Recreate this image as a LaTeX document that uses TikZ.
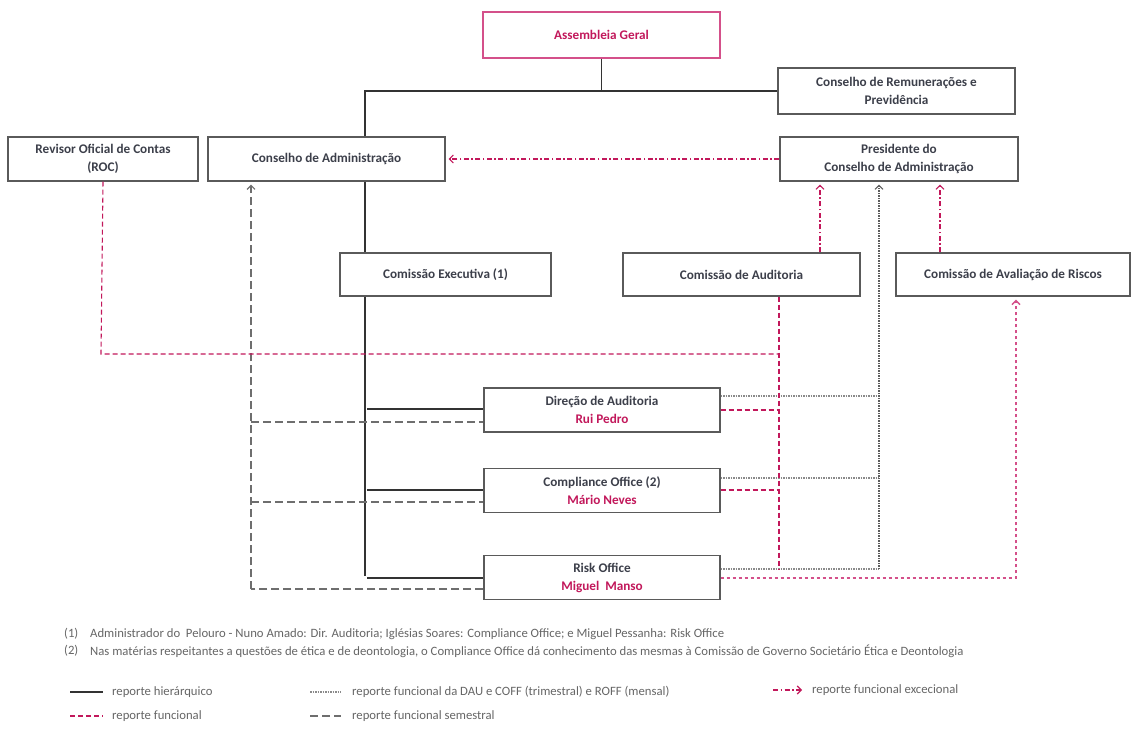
\documentclass[tikz,border=0pt]{standalone}
\usepackage{fontspec}
\setmainfont{Carlito}
\usetikzlibrary{arrows.meta}
\definecolor{pinkred}{HTML}{C2185B}
\definecolor{pinklite}{HTML}{D4508A}
\definecolor{boxtext}{HTML}{3C3F4A}
\definecolor{notetext}{HTML}{666666}
\definecolor{frame}{HTML}{5A5A5A}
\definecolor{hier}{HTML}{333333}
\definecolor{semgray}{HTML}{6E6E6E}
\definecolor{dotgray}{HTML}{8A8A8A}
\newcommand{\person}[1]{{\color{pinkred}#1}}
\tikzset{
  orgbox/.style={draw=frame, line width=1.1pt, fill=white, inner sep=2pt,
    align=center, text=boxtext, font=\fontsize{13.2}{18}\selectfont\bfseries},
  hierline/.style={draw=hier, line width=1.3pt},
  funcline/.style={draw=pinkred, line width=1.1pt, dash pattern=on 5pt off 3pt},
  excline/.style={draw=pinkred, line width=1.1pt,
    dash pattern=on 5pt off 2.5pt on 1.5pt off 2.5pt},
  semline/.style={draw=semgray, line width=1.2pt, dash pattern=on 8pt off 4pt},
  dotline/.style={draw=dotgray, line width=1.1pt, dash pattern=on 1.5pt off 1pt},
  roffline/.style={draw=pinklite, line width=1.5pt, dash pattern=on 3.5pt off 2.5pt},
  arrowup/.style={-{Straight Barb[length=4pt,width=8pt]}, shorten >=3pt},
  notefont/.style={font=\fontsize{12.7}{14}\selectfont, text=notetext, anchor=west, inner sep=0pt},
}
\begin{document}
\begin{tikzpicture}[x=1pt, y=-1pt]
  % canvas
  \path[use as bounding box, fill=white] (0,0) rectangle (1132,728);

  % boxes
  \node[orgbox, draw=pinklite, text=pinkred, minimum width=237, minimum height=46] (ag) at (601.5,35) {Assembleia Geral};
  \node[orgbox, minimum width=237, minimum height=46] (crp) at (896.5,91) {Conselho de Remunerações e\\Previdência};
  \node[orgbox, minimum width=190, minimum height=44] (roc) at (103,159) {Revisor Oficial de Contas\\(ROC)};
  \node[orgbox, minimum width=237, minimum height=44] (ca) at (326.5,159) {Conselho de Administração};
  \node[orgbox, minimum width=238, minimum height=44] (pca) at (899,159) {Presidente do\\Conselho de Administração};
  \node[orgbox, minimum width=211, minimum height=43] (ce) at (445.5,274.5) {Comissão Executiva (1)};
  \node[orgbox, minimum width=237, minimum height=43] (cau) at (741.5,274.5) {Comissão de Auditoria};
  \node[orgbox, minimum width=234, minimum height=43] (car) at (1013,274.5) {Comissão de Avaliação de Riscos};
  \node[orgbox, minimum width=236, minimum height=44] (dau) at (602,410) {Direção de Auditoria\\\person{Rui Pedro}};
  \node[orgbox, minimum width=236, minimum height=44] (coff) at (602,490.5) {Compliance Office (2)\\\person{Mário Neves}};
  \node[orgbox, minimum width=236, minimum height=44] (roff) at (602,577.5) {Risk Office\\\person{Miguel\ \ Manso}};

  % junction points
  \coordinate (spine) at (365,91);
  \coordinate (spineend) at (365,576);
  \coordinate (semx) at (251,589);
  \coordinate (dotx) at (879,569);
  \coordinate (funx) at (779,569);
  \coordinate (rocturn) at (101,354);
  \coordinate (riskturn) at (1016,578);

  % hierarchical reporting
  \draw[hierline] (ag.south) -- (ag.south |- crp.west);
  \draw[hierline] (crp.west) -- (spine) -- (spine |- ca.north);
  \draw[hierline] (spine |- ca.south) -- (spine |- ce.north);
  \draw[hierline] (spine |- ce.south) -- (spineend);
  \draw[hierline] (367,409) -- (367,409 -| dau.west);
  \draw[hierline] (367,490) -- (367,490 -| coff.west);
  \draw[hierline] (367,578) -- (367,578 -| roff.west);

  % half-yearly functional reporting
  \draw[semline] (semx -| roff.west) -- (semx);
  \draw[semline, arrowup] (semx) -- (semx |- ca.south);
  \draw[semline] (semx |- 0,422) -- (dau.west |- 0,422);
  \draw[semline] (semx |- 0,502) -- (coff.west |- 0,502);

  % exceptional functional reporting
  \draw[excline, arrowup] (pca.west) -- (ca.east);
  \draw[excline, arrowup] (cau.north -| 820,0) -- (pca.south -| 820,0);
  \draw[excline, arrowup] (car.north -| 940,0) -- (pca.south -| 940,0);

  % DAU / COFF / ROFF functional reporting
  \draw[dotline] (dau.east |- 0,396) -- (dotx |- 0,396);
  \draw[dotline] (coff.east |- 0,478) -- (dotx |- 0,478);
  \draw[dotline] (roff.east |- dotx) -- (dotx);
  \draw[dotline, arrowup, draw=hier!80] (dotx) -- (dotx |- pca.south);

  % functional reporting
  \draw[funcline] (roc.south) -- (rocturn) -- (rocturn -| funx);
  \draw[funcline] (funx |- cau.south) -- (funx);
  \draw[funcline] (dau.east |- 0,410) -- (778,410);
  \draw[funcline] (coff.east |- 0,490) -- (778,490);
  \draw[roffline, arrowup] (roff.east |- riskturn) -- (riskturn) -- (riskturn |- car.south);

  % notes
  \node[notefont] (n1a) at (64,634) {(1)};
  \node[notefont] (n1b) at (90,634) {Administrador do\ \ Pelouro - Nuno Amado: Dir. Auditoria; Iglésias Soares: Compliance Office; e Miguel Pessanha: Risk Office};
  \node[notefont] (n2a) at (64,651) {(2)};
  \node[notefont] (n2b) at (90,651) {Nas matérias respeitantes a questões de ética e de deontologia, o Compliance Office dá conhecimento das mesmas à Comissão de Governo Societário Ética e Deontologia};

  % legend
  \coordinate (l1a) at (70,692);  \coordinate (l1b) at (103,692);
  \coordinate (l2a) at (70,716);  \coordinate (l2b) at (103,716);
  \coordinate (l3a) at (310,692); \coordinate (l3b) at (341,692);
  \coordinate (l4a) at (310,716); \coordinate (l4b) at (341,716);
  \coordinate (l5a) at (773,690); \coordinate (l5b) at (802,690);
  \draw[hierline] (l1a) -- (l1b);
  \draw[funcline] (l2a) -- (l2b);
  \draw[dotline] (l3a) -- (l3b);
  \draw[semline] (l4a) -- (l4b);
  \draw[excline, -{Straight Barb[length=4pt,width=8pt]}] (l5a) -- (l5b);
  \node[notefont] (t1) at (112,692) {reporte hierárquico};
  \node[notefont] (t2) at (112,716) {reporte funcional};
  \node[notefont] (t3) at (352,692) {reporte funcional da DAU e COFF (trimestral) e ROFF (mensal)};
  \node[notefont] (t4) at (352,716) {reporte funcional semestral};
  \node[notefont] (t5) at (812,690) {reporte funcional excecional};
\end{tikzpicture}
\end{document}
